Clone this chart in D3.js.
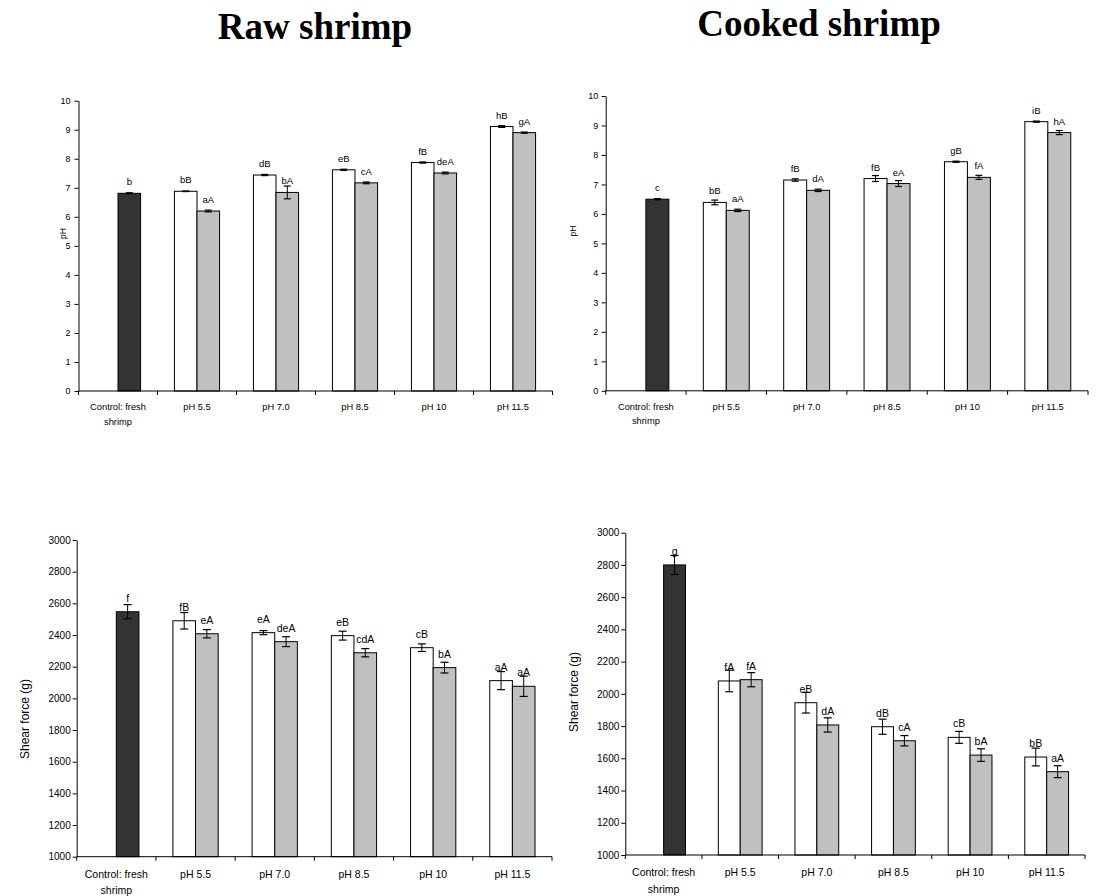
<!DOCTYPE html>
<html>
<head>
<meta charset="utf-8">
<script src="https://cdn.jsdelivr.net/npm/d3@7"></script>
<style>
  html, body { margin: 0; padding: 0; background: #fff; }
  svg { display: block; }
  text { font-family: Arial, "Liberation Sans", sans-serif; fill: #000; }
  .title { font-family: "Times New Roman", "Liberation Serif", serif; font-weight: bold; }
</style>
</head>
<body>
<svg id="chart" width="1102" height="896"></svg>
<script>
// Treatment groups along the x axis
const categories = ["Control: fresh shrimp", "pH 5.5", "pH 7.0", "pH 8.5", "pH 10", "pH 11.5"];

// The first entry of each "gray" array is the fresh-shrimp control (drawn dark).
// Raw shrimp, pH
const rawPhWhite      = [null, 6.88, 7.44, 7.62, 7.87, 9.11];
const rawPhWhiteErr   = [null, 0.01, 0.02, 0.02, 0.02, 0.03];
const rawPhWhiteLab   = [null, "bB", "dB", "eB", "fB", "hB"];
const rawPhGray       = [6.81, 6.20, 6.84, 7.17, 7.51, 8.90];
const rawPhGrayErr    = [0.02, 0.03, 0.22, 0.03, 0.03, 0.02];
const rawPhGrayLab    = ["b", "aA", "bA", "cA", "deA", "gA"];

// Cooked shrimp, pH
const cookedPhWhite    = [null, 6.39, 7.15, 7.20, 7.77, 9.13];
const cookedPhWhiteErr = [null, 0.08, 0.04, 0.10, 0.02, 0.02];
const cookedPhWhiteLab = [null, "bB", "fB", "fB", "gB", "iB"];
const cookedPhGray     = [6.50, 6.12, 6.80, 7.03, 7.24, 8.76];
const cookedPhGrayErr  = [0.02, 0.04, 0.04, 0.10, 0.07, 0.07];
const cookedPhGrayLab  = ["c", "aA", "dA", "eA", "fA", "hA"];

// Raw shrimp, shear force (g)
const rawShearWhite    = [null, 2490, 2415, 2396, 2320, 2112];
const rawShearWhiteErr = [null, 52, 13, 28, 24, 57];
const rawShearWhiteLab = [null, "fB", "eA", "eB", "cB", "aA"];
const rawShearGray     = [2547, 2408, 2358, 2288, 2194, 2076];
const rawShearGrayErr  = [45, 26, 31, 26, 34, 64];
const rawShearGrayLab  = ["f", "eA", "deA", "cdA", "bA", "aA"];

// Cooked shrimp, shear force (g)
const cookedShearWhite    = [null, 2080, 1945, 1796, 1730, 1608];
const cookedShearWhiteErr = [null, 67, 64, 47, 37, 55];
const cookedShearWhiteLab = [null, "fA", "eB", "dB", "cB", "bB"];
const cookedShearGray     = [2800, 2088, 1807, 1709, 1620, 1517];
const cookedShearGrayErr  = [59, 44, 44, 32, 39, 37];
const cookedShearGrayLab  = ["g", "fA", "dA", "cA", "bA", "aA"];

// Axis ticks
const phTicks = [0, 1, 2, 3, 4, 5, 6, 7, 8, 9, 10];
const shearTicks = [1000, 1200, 1400, 1600, 1800, 2000, 2200, 2400, 2600, 2800, 3000];

const svg = d3.select("#chart");

svg.append("text").attr("class", "title")
  .attr("x", 315).attr("y", 39).attr("text-anchor", "middle")
  .style("font-size", "37px").text("Raw shrimp");
svg.append("text").attr("class", "title")
  .attr("x", 819).attr("y", 36).attr("text-anchor", "middle")
  .style("font-size", "37px").text("Cooked shrimp");

function drawPanel(p) {
  const g = svg.append("g");
  const x = d3.scaleBand().domain(categories).range([p.x0, p.x1]).paddingInner(0).paddingOuter(0);
  const slot = d3.scaleBand().domain(["W", "G"]).range([0, x.bandwidth()]).paddingInner(0).paddingOuter(0.75);
  const y = d3.scaleLinear().domain(p.domain).range([p.yBottom, p.yTop]);

  const rows = [];
  categories.forEach((c, i) => {
    if (p.white[i] != null) rows.push({ c, s: "W", v: p.white[i], e: p.whiteErr[i], lab: p.whiteLab[i], fill: "#ffffff" });
    if (p.gray[i] != null) rows.push({ c, s: "G", v: p.gray[i], e: p.grayErr[i], lab: p.grayLab[i], fill: i === 0 ? "#333333" : "#c0c0c0" });
  });

  // bars
  g.selectAll("rect.bar").data(rows).enter().append("rect")
    .attr("class", "bar")
    .attr("x", d => x(d.c) + slot(d.s))
    .attr("y", d => y(d.v))
    .attr("width", slot.bandwidth())
    .attr("height", d => y(p.domain[0]) - y(d.v))
    .attr("fill", d => d.fill)
    .attr("stroke", "#000").attr("stroke-width", 1);

  // error bars
  const cap = p.cap;
  const eb = g.selectAll("g.err").data(rows).enter().append("g").attr("class", "err");
  const cx = d => x(d.c) + slot(d.s) + slot.bandwidth() / 2;
  eb.append("line").attr("x1", cx).attr("x2", cx)
    .attr("y1", d => y(d.v + d.e)).attr("y2", d => y(d.v - d.e))
    .attr("stroke", "#000").attr("stroke-width", 1);
  eb.append("line").attr("x1", d => cx(d) - cap / 2).attr("x2", d => cx(d) + cap / 2)
    .attr("y1", d => y(d.v + d.e)).attr("y2", d => y(d.v + d.e))
    .attr("stroke", "#000").attr("stroke-width", 1.2);
  eb.append("line").attr("x1", d => cx(d) - cap / 2).attr("x2", d => cx(d) + cap / 2)
    .attr("y1", d => y(d.v - d.e)).attr("y2", d => y(d.v - d.e))
    .attr("stroke", "#000").attr("stroke-width", 1.2);

  // significance letters
  g.selectAll("text.lab").data(rows).enter().append("text")
    .attr("class", "lab")
    .attr("x", cx)
    .attr("y", d => y(d.v) - p.labOffset)
    .attr("text-anchor", "middle")
    .style("font-size", p.labFont + "px")
    .text(d => d.lab);

  // y axis
  const ya = g.append("g").attr("transform", `translate(${p.x0},0)`)
    .call(d3.axisLeft(y).tickValues(p.ticks).tickSize(4).tickPadding(p.tickPad).tickSizeOuter(0).tickFormat(d3.format("d")));
  ya.selectAll("text").style("font-size", p.tickFont + "px").attr("fill", "#000");
  ya.selectAll("line, path").attr("stroke", "#000");

  // x axis: ticks at category boundaries
  const xa = g.append("g");
  xa.append("line").attr("x1", p.x0).attr("x2", p.x1)
    .attr("y1", p.yBottom).attr("y2", p.yBottom).attr("stroke", "#000");
  const bounds = categories.map(c => x(c)).concat([p.x1]);
  xa.selectAll("line.tk").data(bounds).enter().append("line").attr("class", "tk")
    .attr("x1", d => d).attr("x2", d => d)
    .attr("y1", p.yBottom).attr("y2", p.yBottom + 4).attr("stroke", "#000");
  xa.selectAll("text.cat").data(categories).enter().append("text").attr("class", "cat")
    .attr("text-anchor", "middle")
    .style("font-size", p.catFont + "px")
    .each(function (c) {
      const t = d3.select(this);
      const cxp = x(c) + x.bandwidth() / 2;
      const lines = c === "Control: fresh shrimp" ? ["Control: fresh", "shrimp"] : [c];
      lines.forEach((ln, k) => {
        t.append("tspan").attr("x", cxp).attr("y", p.yBottom + p.catDy + k * p.catLine).text(ln);
      });
    });

  // y axis title
  svg.append("text")
    .attr("transform", `translate(${p.titleX},${p.titleY}) rotate(-90)`)
    .attr("text-anchor", "middle")
    .style("font-size", p.titleFont + "px")
    .text(p.yTitle);
}

drawPanel({
  x0: 78.5, x1: 552.5, yTop: 100.7, yBottom: 391, domain: [0, 10], ticks: phTicks,
  white: rawPhWhite, whiteErr: rawPhWhiteErr, whiteLab: rawPhWhiteLab,
  gray: rawPhGray, grayErr: rawPhGrayErr, grayLab: rawPhGrayLab,
  cap: 7, labOffset: 8, labFont: 9.5, tickFont: 9, tickPad: 4, catFont: 9.3, catDy: 19, catLine: 14.5,
  yTitle: "pH", titleX: 66, titleY: 233.5, titleFont: 8.5
});
drawPanel({
  x0: 605.7, x1: 1088, yTop: 96, yBottom: 390.8, domain: [0, 10], ticks: phTicks,
  white: cookedPhWhite, whiteErr: cookedPhWhiteErr, whiteLab: cookedPhWhiteLab,
  gray: cookedPhGray, grayErr: cookedPhGrayErr, grayLab: cookedPhGrayLab,
  cap: 7, labOffset: 8, labFont: 9.5, tickFont: 9, tickPad: 3.5, catFont: 9.3, catDy: 19, catLine: 14.5,
  yTitle: "pH", titleX: 576, titleY: 231, titleFont: 8.5
});
drawPanel({
  x0: 76.7, x1: 552, yTop: 540, yBottom: 856.7, domain: [1000, 3000], ticks: shearTicks,
  white: rawShearWhite, whiteErr: rawShearWhiteErr, whiteLab: rawShearWhiteLab,
  gray: rawShearGray, grayErr: rawShearGrayErr, grayLab: rawShearGrayLab,
  cap: 8, labOffset: 10, labFont: 10.5, tickFont: 10, tickPad: 2, catFont: 10.5, catDy: 21, catLine: 16,
  yTitle: "Shear force (g)", titleX: 29, titleY: 719, titleFont: 12
});
drawPanel({
  x0: 625.3, x1: 1085, yTop: 532.7, yBottom: 855, domain: [1000, 3000], ticks: shearTicks,
  white: cookedShearWhite, whiteErr: cookedShearWhiteErr, whiteLab: cookedShearWhiteLab,
  gray: cookedShearGray, grayErr: cookedShearGrayErr, grayLab: cookedShearGrayLab,
  cap: 8, labOffset: 10, labFont: 10.5, tickFont: 10, tickPad: 2, catFont: 10.5, catDy: 21, catLine: 17,
  yTitle: "Shear force (g)", titleX: 578, titleY: 692, titleFont: 12
});
</script>
</body>
</html>
